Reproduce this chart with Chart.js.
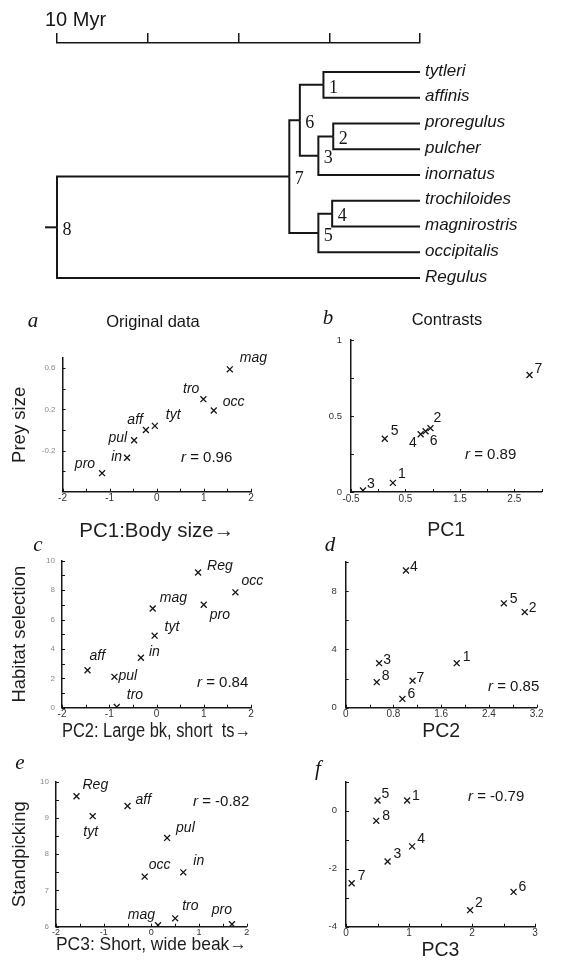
<!DOCTYPE html>
<html><head><meta charset="utf-8">
<script src="https://cdn.jsdelivr.net/npm/chart.js@4.4.1/dist/chart.umd.min.js"></script>
<style>
html,body{margin:0;padding:0;background:#fff;}
#wrap{position:relative;width:569px;height:965px;overflow:hidden;background:#fff;}
#wrap canvas{position:absolute;left:0;top:0;pointer-events:none;}
</style></head><body><div id="wrap"></div>
<script>
// ================= DATA =================
// Phylogeny (ages in Myr before present)
const tipNames = ['tytleri','affinis','proregulus','pulcher','inornatus','trochiloides','magnirostris','occipitalis','Regulus'];
const nodeIds = [1,2,3,4,5,6,7,8];
const nodeAges = [2.66,2.39,2.80,2.42,2.80,3.31,3.60,10.0];
const nodeChildren = [['tytleri','affinis'],['proregulus','pulcher'],[2,'inornatus'],['trochiloides','magnirostris'],[4,'occipitalis'],[1,3],[6,5],[7,'Regulus']];
const rootStemAge = 10.33;
const scaleBarLabel = '10 Myr';

// a: Original data, Prey size vs PC1
const aLabels = ['mag','tro','occ','tyt','aff','pul','in','pro'];
const aX = [1.55,0.99,1.21,-0.04,-0.23,-0.48,-0.63,-1.16];
const aY = [0.59,0.30,0.19,0.04,0.00,-0.10,-0.27,-0.42];
const aXTicks = [-2,-1,0,1,2];
const aYTicks = [-0.6,-0.2,0.2,0.6];
// b: Contrasts, Prey size vs PC1
const bLabels = ['7','5','4','6','2','1','3'];
const bX = [2.78,0.12,0.78,0.87,0.96,0.27,-0.28];
const bY = [0.77,0.35,0.38,0.40,0.42,0.06,0.01];
const bXTicks = [-0.5,0.5,1.5,2.5];
const bYTicks = [0,0.5,1];
// c: Habitat selection vs PC2
const cLabels = ['Reg','occ','pro','mag','tyt','in','aff','pul','tro'];
const cX = [0.88,1.67,1.0,-0.08,-0.04,-0.33,-1.46,-0.89,-0.84];
const cY = [9.2,7.85,7.0,6.75,4.9,3.4,2.55,2.1,0.05];
const cXTicks = [-2,-1,0,1,2];
const cYTicks = [0,2,4,6,8,10];
// d: contrasts, Habitat selection vs PC2
const dLabels = ['4','5','2','1','3','8','7','6'];
const dX = [1.01,2.65,3.0,1.86,0.56,0.52,1.12,0.95];
const dY = [9.4,7.15,6.55,3.05,3.05,1.75,1.85,0.6];
const dXTicks = [0,0.8,1.6,2.4,3.2];
const dYTicks = [0,4,8];
// e: Standpicking vs PC3
const eLabels = ['Reg','tyt','aff','pul','occ','in','mag','tro','pro'];
const eX = [-1.57,-1.23,-0.5,0.33,-0.14,0.67,0.14,0.5,1.69];
const eY = [9.6,9.05,9.33,8.45,7.38,7.5,6.04,6.23,6.07];
const eXTicks = [-2,-1,0,1,2];
const eYTicks = [6,7,8,9,10];
// f: contrasts, Standpicking vs PC3
const fLabels = ['5','1','8','4','3','7','2','6'];
const fX = [0.5,0.97,0.48,1.05,0.66,0.09,1.97,2.66];
const fY = [0.35,0.35,-0.35,-1.23,-1.75,-2.5,-3.43,-2.8];
const fXTicks = [0,1,2,3];
const fYTicks = [-4,-2,0];

const rValues = [0.96,0.89,0.84,0.85,-0.82,-0.79];

// ================= STYLE / LAYOUT =================
const W = 569, H = 965;
const SANS = '"Liberation Sans", Arial, Helvetica, sans-serif';
const SERIF = '"Liberation Serif", "Times New Roman", serif';
const INK = '#161616';
const wrap = document.getElementById('wrap');

function newCanvas(){
  const c = document.createElement('canvas');
  c.width = W; c.height = H; c.style.width = W+'px'; c.style.height = H+'px';
  wrap.appendChild(c);
  return c.getContext('2d');
}

// label offsets [dx, dy, align]
const aOff = [[10,-11,'l'],[-4,-10,'r'],[9,-8,'l'],[11,-11,'l'],[-3,-10,'r'],[-7,-2,'r'],[-5,-1,'r'],[-7,-9,'r']];
const bOff = [[5,-6,'l'],[6,-8,'l'],[-4,9,'r'],[8,10,'c'],[7,-10,'c'],[5,-9,'l'],[4,-6,'l']];
const cOff = [[9,-6,'l'],[6,-11,'l'],[6,10,'l'],[7,-10,'l'],[10,-9,'l'],[8,-6,'l'],[2,-14,'l'],[4,-1,'l'],[10,-12,'l']];
const dOff = [[4,-3,'l'],[6,-4,'l'],[4,-4,'l'],[6,-6,'l'],[4,-3,'l'],[5,-6,'l'],[4,-3,'l'],[5,-5,'l']];
const eOff = [[6,-11,'l'],[-2,16,'c'],[8,-6,'l'],[9,-10,'l'],[4,-12,'l'],[10,-11,'l'],[-3,-10,'r'],[7,-12,'l'],[-10,-14,'c']];
const fOff = [[4,-6,'l'],[5,-4,'l'],[6,-5,'l'],[5,-7,'l'],[6,-7,'l'],[6,-7,'l'],[5,-7,'l'],[5,-5,'l']];

const panels = [
  {id:'a', labels:aLabels, xs:aX, ys:aY, xr:[-2,2,0.5], yr:[-0.6,0.7,0.2], xt:aXTicks, yt:aYTicks, off:aOff, ital:true,
   area:{l:62.5,t:358,r:251,b:491.7}, xTitle:'PC1:Body size→', xTitleY:531, xTitleSize:20.5, yTitle:'Prey size', yTitleX:20,
   r:rValues[0], rPos:[181,458], letter:'a', letterPos:[33,321], head:'Original data', headPos:[153,322], yFaint:true},
  {id:'b', labels:bLabels, xs:bX, ys:bY, xr:[-0.5,3,0.5], yr:[0,1,0.25], xt:bXTicks, yt:bYTicks, off:bOff, ital:false,
   area:{l:351,t:340,r:541.5,b:492}, xTitle:'PC1', xTitleY:531, xTitleSize:19.5,
   r:rValues[1], rPos:[465,455], letter:'b', letterPos:[328,318], head:'Contrasts', headPos:[447,320]},
  {id:'c', labels:cLabels, xs:cX, ys:cY, xr:[-2,2,0.5], yr:[0,10,1], xt:cXTicks, yt:cYTicks, off:cOff, ital:true,
   area:{l:62,t:560.7,r:251,b:707.7}, xTitle:'PC2: Large bk, short  ts→', xTitleY:732, xTitleSize:19.5, yTitle:'Habitat selection', yTitleX:20,
   r:rValues[2], rPos:[197,683], letter:'c', letterPos:[38,545], yFaint:true},
  {id:'d', labels:dLabels, xs:dX, ys:dY, xr:[0,3.2,0.4], yr:[0,10,2], xt:dXTicks, yt:dYTicks, off:dOff, ital:false,
   area:{l:345.7,t:561.7,r:536.7,b:707.7}, xTitle:'PC2', xTitleY:732, xTitleSize:19.5,
   r:rValues[3], rPos:[488,687], letter:'d', letterPos:[330,545]},
  {id:'e', labels:eLabels, xs:eX, ys:eY, xr:[-2,2,0.5], yr:[6,10,0.5], xt:eXTicks, yt:eYTicks, off:eOff, ital:true,
   area:{l:56,t:781.7,r:246.7,b:926.7}, xTitle:'PC3: Short, wide beak→', xTitleY:945, xTitleSize:19, yTitle:'Standpicking', yTitleX:20,
   r:rValues[4], rPos:[193,802], letter:'e', letterPos:[20,763], yFaint:true, xTickSize:9},
  {id:'f', labels:fLabels, xs:fX, ys:fY, xr:[0,3,0.5], yr:[-4,1,1], xt:fXTicks, yt:fYTicks, off:fOff, ital:false,
   area:{l:346,t:781.7,r:535,b:926.7}, xTitle:'PC3', xTitleY:951, xTitleSize:19.5,
   r:rValues[5], rPos:[468,797], letter:'f', letterPos:[318,769]}
];

const Y_TITLE_SIZE = 18.5;

function fmt(v){ const r = Math.round(v*100)/100; return String(r); }
function inList(list, v){ return list.some(t => Math.abs(t - v) < 1e-6); }

function panelPlugin(p){
  return {
    id: 'deco_' + p.id,
    afterDraw(chart){
      const ctx = chart.ctx, xs = chart.scales.x, ys = chart.scales.y, ca = chart.chartArea;
      ctx.save();
      // inward tick marks
      ctx.strokeStyle = INK; ctx.lineWidth = 1;
      xs.ticks.forEach(t => {
        const px = Math.round(xs.getPixelForValue(t.value)) + 0.5;
        ctx.beginPath(); ctx.moveTo(px, ca.bottom); ctx.lineTo(px, ca.bottom - 3); ctx.stroke();
      });
      ys.ticks.forEach(t => {
        const py = Math.round(ys.getPixelForValue(t.value)) + 0.5;
        ctx.beginPath(); ctx.moveTo(ca.left, py); ctx.lineTo(ca.left + 3, py); ctx.stroke();
      });
      // point labels
      ctx.fillStyle = INK;
      ctx.textBaseline = 'middle';
      ctx.font = (p.ital ? 'italic ' : '') + '14px ' + SANS;
      const meta = chart.getDatasetMeta(0);
      meta.data.forEach((el, i) => {
        const o = p.off[i];
        ctx.textAlign = o[2] === 'l' ? 'left' : (o[2] === 'r' ? 'right' : 'center');
        ctx.fillText(p.labels[i], el.x + o[0], el.y + o[1]);
      });
      // r value
      ctx.textAlign = 'left';
      ctx.font = 'italic 15px ' + SANS;
      ctx.fillText('r', p.rPos[0], p.rPos[1]);
      const rw = ctx.measureText('r').width;
      ctx.font = '15px ' + SANS;
      ctx.fillText(' = ' + p.r.toFixed(2), p.rPos[0] + rw, p.rPos[1]);
      // panel letter
      ctx.textAlign = 'center';
      ctx.font = 'italic 21px ' + SERIF;
      ctx.fillText(p.letter, p.letterPos[0], p.letterPos[1]);
      if (p.head){
        ctx.font = '16.5px ' + SANS;
        ctx.fillText(p.head, p.headPos[0], p.headPos[1]);
      }
      ctx.restore();
    }
  };
}

function makePanel(p){
  const ctx = newCanvas();
  const a = p.area;
  const xFont = {family: SANS, size: p.xTitleSize, lineHeight: 1.2};
  const yFont = {family: SANS, size: Y_TITLE_SIZE, lineHeight: 1.2};
  const xLH = p.xTitleSize * 1.2, yLH = Y_TITLE_SIZE * 1.2;
  const Wy = p.yTitle ? (a.l - (p.yTitleX - yLH/2)) : 40;
  const Hx = (p.xTitleY + xLH/2) - a.b;
  const yLabelColor = p.yFaint ? '#8a8a8a' : '#333';
  new Chart(ctx, {
    type: 'scatter',
    data: { datasets: [{
      data: p.xs.map((x, i) => ({x: x, y: p.ys[i]})),
      pointStyle: 'crossRot', pointRadius: 4.2, pointHoverRadius: 4.2,
      borderColor: INK, backgroundColor: INK, borderWidth: 1.3, showLine: false
    }]},
    options: {
      responsive: false, animation: false, devicePixelRatio: 1,
      layout: { padding: { left: a.l - Wy, top: a.t, right: W - a.r, bottom: H - a.b - Hx } },
      plugins: { legend: {display: false}, tooltip: {enabled: false}, title: {display: false} },
      events: [],
      scales: {
        x: {
          type: 'linear', position: 'bottom', min: p.xr[0], max: p.xr[1],
          ticks: { stepSize: p.xr[2], includeBounds: false, autoSkip: false, maxRotation: 0, padding: p.xTickSize ? 0 : 1,
                   color: '#333', font: {family: SANS, size: p.xTickSize || 10},
                   callback: v => inList(p.xt, v) ? fmt(v) : '' },
          grid: { display: false, drawTicks: false },
          border: { display: true, color: INK, width: 1.5 },
          title: { display: true, text: p.xTitle, color: '#1e1e1e', font: xFont, padding: 0 },
          afterFit: s => { s.height = Hx; }
        },
        y: {
          type: 'linear', position: 'left', min: p.yr[0], max: p.yr[1],
          ticks: { stepSize: p.yr[2], includeBounds: false, autoSkip: false, padding: p.yFaint ? 7 : 9,
                   color: yLabelColor, font: {family: SANS, size: p.yFaint ? 8 : 9.5},
                   callback: v => inList(p.yt, v) ? fmt(v) : '' },
          grid: { display: false, drawTicks: false },
          border: { display: true, color: INK, width: 1.5 },
          title: { display: !!p.yTitle, text: p.yTitle || '', color: '#1e1e1e', font: yFont, padding: 0 },
          afterFit: s => { s.width = Wy; }
        }
      }
    },
    plugins: [panelPlugin(p)]
  });
}

// ================= TREE =================
function treePos(c){
  if (typeof c === 'string') return {age: 0, y: tipNames.indexOf(c)};
  const i = nodeIds.indexOf(c);
  const ch = nodeChildren[i].map(treePos);
  return {age: nodeAges[i], y: (ch[0].y + ch[1].y) / 2};
}
function makeTree(){
  const ctx = newCanvas();
  const datasets = [];
  const lineStyle = {showLine: true, pointRadius: 0, borderColor: INK, borderWidth: 2, clip: false, tension: 0};
  nodeIds.forEach((id, i) => {
    const n = treePos(id);
    nodeChildren[i].forEach(c => {
      const q = treePos(c);
      datasets.push(Object.assign({data: [{x: n.age, y: n.y}, {x: n.age, y: q.y}, {x: q.age, y: q.y}]}, lineStyle));
    });
  });
  const root = treePos(nodeIds[nodeIds.length - 1]);
  datasets.push(Object.assign({data: [{x: rootStemAge, y: root.y}, {x: root.age, y: root.y}]}, lineStyle));

  const area = {l: 57, t: 43, r: 420, b: 290.9};
  new Chart(ctx, {
    type: 'scatter',
    data: {datasets},
    options: {
      responsive: false, animation: false, devicePixelRatio: 1, events: [],
      layout: {padding: {left: area.l, top: area.t - 10, right: W - area.r, bottom: H - area.b}},
      plugins: {legend: {display: false}, tooltip: {enabled: false}},
      scales: {
        x: {
          type: 'linear', position: 'top', min: 0, max: 10, reverse: true,
          ticks: {display: false, stepSize: 2.5},
          grid: {display: true, drawOnChartArea: false, drawTicks: true, tickLength: 10, color: INK, lineWidth: 1.5},
          border: {display: true, color: INK, width: 1.5},
          afterFit: s => { s.height = 10; }
        },
        y: {type: 'linear', display: false, min: -1.126, max: 8.5, reverse: true}
      }
    },
    plugins: [{
      id: 'treeLabels',
      afterDraw(chart){
        const c = chart.ctx, xs = chart.scales.x, ys = chart.scales.y;
        c.save();
        c.fillStyle = INK;
        c.textBaseline = 'middle'; c.textAlign = 'left';
        c.font = 'italic 17px ' + SANS;
        tipNames.forEach((t, i) => c.fillText(t, xs.getPixelForValue(0) + 5, ys.getPixelForValue(i) - 1));
        c.font = '18px ' + SERIF; c.textAlign = 'center';
        nodeIds.forEach(id => {
          const n = treePos(id);
          c.fillText(String(id), xs.getPixelForValue(n.age) + 10, ys.getPixelForValue(n.y) + 3);
        });
        c.textAlign = 'left'; c.textBaseline = 'alphabetic';
        c.font = '20px ' + SANS;
        c.fillText(scaleBarLabel, 45, 26);
        c.restore();
      }
    }]
  });
}

makeTree();
panels.forEach(makePanel);
</script>
</body></html>
